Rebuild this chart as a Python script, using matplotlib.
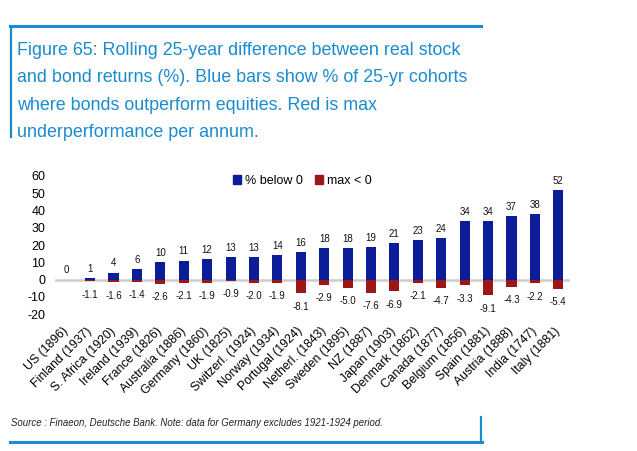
import matplotlib
matplotlib.use("Agg")
import matplotlib.pyplot as plt
from matplotlib.lines import Line2D
from matplotlib.patches import Patch
import numpy as np

plt.rcParams['font.family'] = ['Liberation Sans', 'DejaVu Sans']

countries = ["US (1896)", "Finland (1937)", "S. Africa (1920)", "Ireland (1939)",
             "France (1826)", "Australia (1886)", "Germany (1860)", "UK (1825)",
             "Switzerl. (1924)", "Norway (1934)", "Portugal (1924)", "Netherl. (1843)",
             "Sweden (1895)", "NZ (1887)", "Japan (1903)", "Denmark (1862)",
             "Canada (1877)", "Belgium (1856)", "Spain (1881)", "Austria (1888)",
             "India (1747)", "Italy (1881)"]
pct_below0 = [0, 1, 4, 6, 10, 11, 12, 13, 13, 14, 16, 18, 18, 19, 21, 23, 24, 34, 34, 37, 38, 52]
max_below0 = [np.nan, -1.1, -1.6, -1.4, -2.6, -2.1, -1.9, -0.9, -2.0, -1.9, -8.1, -2.9,
              -5.0, -7.6, -6.9, -2.1, -4.7, -3.3, -9.1, -4.3, -2.2, -5.4]
yticks = [-20, -10, 0, 10, 20, 30, 40, 50, 60]

title_lines = ["Figure 65: Rolling 25-year difference between real stock",
               "and bond returns (%). Blue bars show % of 25-yr cohorts",
               "where bonds outperform equities. Red is max",
               "underperformance per annum."]
source = "Source : Finaeon, Deutsche Bank. Note: data for Germany excludes 1921-1924 period."

BLUE = "#0B1E98"
RED = "#9B1717"
ACCENT = "#1B8CCF"

W, H = 637, 451
fig = plt.figure(figsize=(W / 100, H / 100), dpi=100)

def fx(px):
    return px / W

def fy(py):
    return 1 - py / H

ax = fig.add_axes([fx(55), fy(314), fx(570) - fx(55), fy(176) - fy(314)])
x = np.arange(len(countries))
ax.axhline(0, color="#CDCDCD", lw=1.8, zorder=1)
ax.bar(x, pct_below0, width=0.43, color=BLUE, zorder=2, label="% below 0")
ax.bar(x, max_below0, width=0.43, color=RED, zorder=2, label="max < 0")

for xi, v in zip(x, pct_below0):
    ax.annotate(f"{v:d}", (xi, v), xytext=(0, 3), textcoords="offset points",
                ha="center", va="bottom", fontsize=7, color="#111111")
for xi, v in zip(x, max_below0):
    if np.isnan(v):
        continue
    ax.annotate(f"{v:.1f}", (xi, v), xytext=(0, -6), textcoords="offset points",
                ha="center", va="top", fontsize=7, color="#111111")

ax.set_xlim(-0.5, len(countries) - 0.5)
ax.set_ylim(-20, 60)
ax.set_yticks(yticks)
ax.set_yticklabels([str(t) for t in yticks], fontsize=9)
ax.set_xticks(x)
ax.set_xticklabels(countries, rotation=45, ha="right", va="center",
                   rotation_mode="anchor", fontsize=8.8)
ax.tick_params(axis="y", length=0, pad=7)
ax.tick_params(axis="x", length=0, pad=11)
for s in ax.spines.values():
    s.set_visible(False)

handles = [Patch(color=BLUE, label="% below 0"), Patch(color=RED, label="max < 0")]
fig.legend(handles=handles, loc="center left", bbox_to_anchor=(fx(233), fy(181)),
           ncol=2, frameon=False, fontsize=9, handlelength=0.65, handleheight=0.65,
           handletextpad=0.3, columnspacing=1.0, borderpad=0, borderaxespad=0)

# frame lines
fig.add_artist(Line2D([fx(10), fx(481)], [fy(25.5), fy(25.5)], color=ACCENT, lw=2.2))
fig.add_artist(Line2D([fx(11), fx(11)], [fy(25.5), fy(137)], color=ACCENT, lw=1.6))
fig.add_artist(Line2D([fx(10), fx(482)], [fy(442), fy(442)], color=ACCENT, lw=2.2))
fig.add_artist(Line2D([fx(481), fx(481)], [fy(417), fy(442)], color=ACCENT, lw=1.6))

for i, line in enumerate(title_lines):
    fig.text(fx(17), fy(55 + 27.3 * i), line, fontsize=12.9, color=ACCENT,
             ha="left", va="baseline")

fig.text(fx(11), fy(423), source, fontsize=6.9, style="italic", color="#222222",
         ha="left", va="center")

fig.savefig("out.png", dpi=100)
